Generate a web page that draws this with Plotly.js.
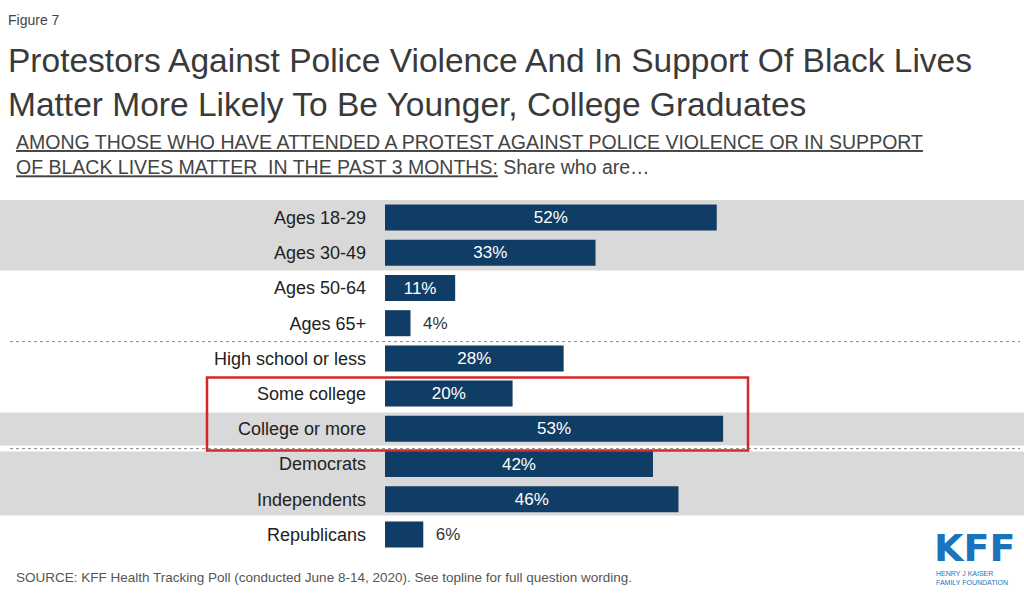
<!DOCTYPE html>
<html>
<head>
<meta charset="utf-8">
<script src="https://cdn.plot.ly/plotly-3.0.1.min.js"></script>
<style>body{margin:0;background:#fff}#chart{width:1024px;height:597px}</style>
</head>
<body>
<div id="chart"></div>
<script>
// data
var groups = ['Ages 18-29', 'Ages 30-49', 'Ages 50-64', 'Ages 65+', 'High school or less',
              'Some college', 'College or more', 'Democrats', 'Independents', 'Republicans'];
var shares = [52, 33, 11, 4, 28, 20, 53, 42, 46, 6];

var rows = groups.map(function (g, i) { return i; });
var pxX = function (px) { return (px - 385) / 638; };   // page px -> paper x
var pxY = function (px) { return (px - 218) / 35.2; };  // page px -> row units

var trace = {
  type: 'bar', orientation: 'h',
  y: rows, x: shares,
  width: 0.74,
  marker: {color: '#0f3d66'},
  text: shares.map(function (v) { return v < 8 ? '  ' + v + '%' : v + '%'; }),
  textposition: shares.map(function (v) { return v < 8 ? 'outside' : 'inside'; }),
  insidetextanchor: 'middle',
  insidetextfont: {color: '#fff', size: 17},
  outsidetextfont: {color: '#333', size: 17},
  cliponaxis: false,
  hoverinfo: 'none'
};

function band(y0, y1) {
  return {type: 'rect', xref: 'paper', yref: 'y', x0: pxX(0), x1: pxX(1024),
          y0: pxY(y0), y1: pxY(y1), fillcolor: '#d9d9d9', line: {width: 0}, layer: 'below'};
}
function dashed(y) {
  return {type: 'line', xref: 'paper', yref: 'y', x0: pxX(10), x1: pxX(1020),
          y0: pxY(y), y1: pxY(y), line: {color: '#888', width: 1, dash: 'dot'}};
}

var layout = {
  width: 1024, height: 597,
  margin: {l: 385, r: 1, t: 200, b: 45},
  paper_bgcolor: '#fff', plot_bgcolor: 'rgba(0,0,0,0)',
  font: {family: 'Liberation Sans, Arial, sans-serif', color: '#222'},
  showlegend: false,
  xaxis: {range: [0, 100], visible: false, fixedrange: true},
  yaxis: {
    range: [9.5, -0.5], tickmode: 'array', tickvals: rows, ticktext: groups,
    ticks: '', showgrid: false, zeroline: false, showline: false,
    ticklabelstandoff: 18, tickfont: {size: 18, color: '#222'}
  },
  shapes: [
    band(195, 271), band(413, 446), band(452, 516),
    dashed(342), dashed(449),
    {type: 'rect', xref: 'paper', yref: 'y', x0: pxX(207), x1: pxX(748),
     y0: pxY(378), y1: pxY(451), line: {color: '#d62728', width: 2.5}, fillcolor: 'rgba(0,0,0,0)'}
  ],
  annotations: [
    {xref: 'paper', yref: 'paper', x: pxX(6), y: 1 + (200 - 20) / 352, xanchor: 'left', yanchor: 'middle',
     text: 'Figure 7', showarrow: false, font: {size: 14, color: '#444'}},
    {xref: 'paper', yref: 'paper', x: pxX(6), y: 1 + (200 - 82) / 352, xanchor: 'left', yanchor: 'middle',
     align: 'left', showarrow: false, font: {size: 33.5, color: '#3a3a3a'},
     text: 'Protestors Against Police Violence And In Support Of Black Lives<br>Matter More Likely To Be Younger, College Graduates'},
    {xref: 'paper', yref: 'paper', x: pxX(14), y: 1 + (200 - 154) / 352, xanchor: 'left', yanchor: 'middle',
     align: 'left', showarrow: false, font: {size: 19.5, color: '#444'},
     text: '<span style="text-decoration:underline">AMONG THOSE WHO HAVE ATTENDED A PROTEST AGAINST POLICE VIOLENCE OR IN SUPPORT</span><br>' +
           '<span style="text-decoration:underline">OF BLACK LIVES MATTER  IN THE PAST 3 MONTHS:</span> Share who are…'},
    {xref: 'paper', yref: 'paper', x: pxX(14), y: -(577 - 552) / 352, xanchor: 'left', yanchor: 'middle',
     showarrow: false, font: {size: 13.5, color: '#555'},
     text: 'SOURCE: KFF Health Tracking Poll (conducted June 8-14, 2020). See topline for full question wording.'},
    {xref: 'paper', yref: 'paper', x: pxX(932), y: -(548 - 552) / 352, xanchor: 'left', yanchor: 'middle',
     showarrow: false, font: {size: 38, color: '#1a73bd', family: 'DejaVu Sans, sans-serif'},
     text: '<b>KFF</b>'},
    {xref: 'paper', yref: 'paper', x: pxX(934), y: -(578 - 552) / 352, xanchor: 'left', yanchor: 'middle',
     align: 'left', showarrow: false, font: {size: 7, color: '#1a73bd'},
     text: 'HENRY J KAISER<br>FAMILY FOUNDATION'}
  ]
};

Plotly.newPlot('chart', [trace], layout, {displayModeBar: false, staticPlot: true});
</script>
</body>
</html>
